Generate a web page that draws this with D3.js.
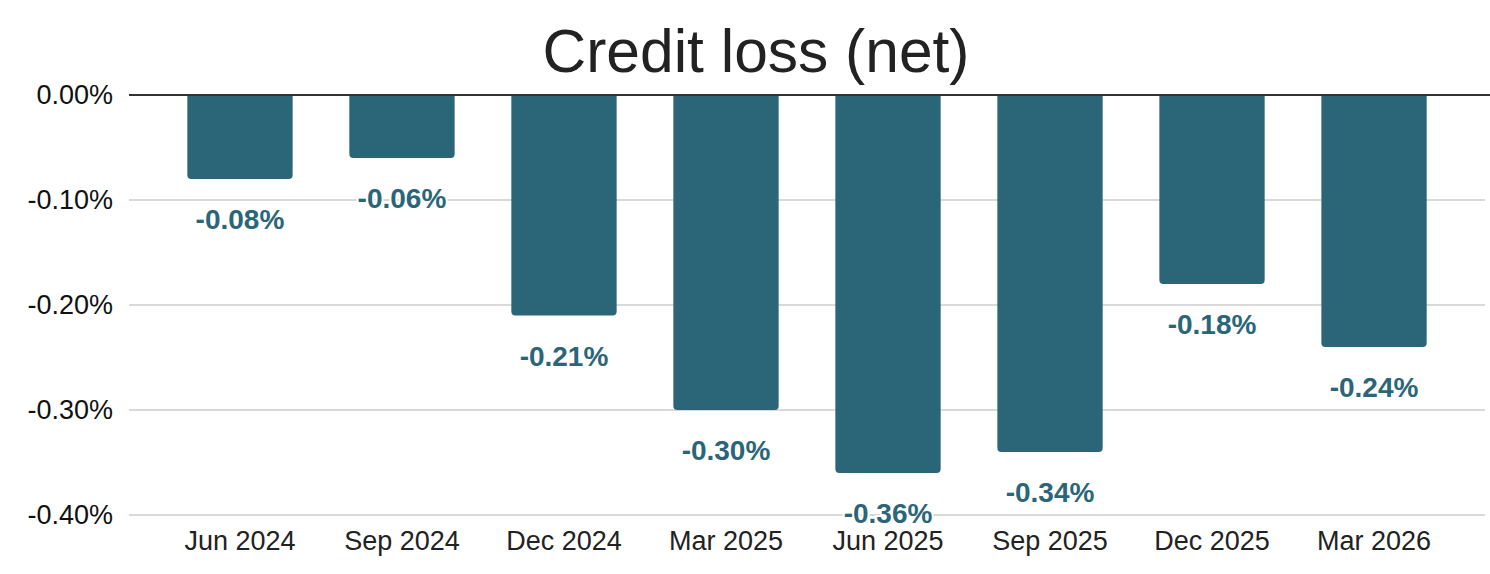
<!DOCTYPE html>
<html>
<head>
<meta charset="utf-8">
<script src="https://cdn.jsdelivr.net/npm/d3@7"></script>
<style>
  body { margin: 0; background: #fff; }
  text { font-family: "Liberation Sans", Arial, sans-serif; }
</style>
</head>
<body>
<div id="chart"></div>
<script>
var categories = ["Jun 2024", "Sep 2024", "Dec 2024", "Mar 2025", "Jun 2025", "Sep 2025", "Dec 2025", "Mar 2026"];
var values = [-0.08, -0.06, -0.21, -0.30, -0.36, -0.34, -0.18, -0.24];
var yTicks = [0, -0.1, -0.2, -0.3, -0.4];

var width = 1490, height = 574;
var plotLeft = 129, plotRight = 1485, plotTop = 95, plotBottom = 515;
var barColor = "#2b6578";

function pct(d) {
    return (Math.abs(d) < 1e-9 ? 0 : d).toFixed(2) + "%";
}

var svg = d3.select("#chart").append("svg")
    .attr("width", width)
    .attr("height", height);

var x = d3.scaleBand()
    .domain(categories)
    .range([plotLeft, plotRight])
    .paddingInner(0.35)
    .paddingOuter(0.36);

var y = d3.scaleLinear()
    .domain([-0.4, 0])
    .range([plotBottom, plotTop]);

// title
svg.append("text")
    .attr("x", 756)
    .attr("y", 72)
    .attr("text-anchor", "middle")
    .attr("font-size", 60.5)
    .attr("fill", "#222")
    .text("Credit loss (net)");

// gridlines
svg.append("g").selectAll("line")
    .data(yTicks.filter(function(d){ return d !== 0; }))
    .enter().append("line")
    .attr("x1", plotLeft)
    .attr("x2", plotRight)
    .attr("y1", function(d){ return y(d); })
    .attr("y2", function(d){ return y(d); })
    .attr("stroke", "#cccccc")
    .attr("stroke-width", 1.5);

// y axis labels
svg.append("g").selectAll("text")
    .data(yTicks)
    .enter().append("text")
    .attr("x", 113)
    .attr("y", function(d){ return y(d); })
    .attr("dy", "0.35em")
    .attr("text-anchor", "end")
    .attr("font-size", 27)
    .attr("fill", "#111")
    .text(pct);

// bars with rounded bottom corners
function barPath(d, i) {
    var x0 = x(categories[i]), w = x.bandwidth();
    var y0 = y(0), y1 = y(d), r = 4;
    return "M" + x0 + "," + y0 +
        "V" + (y1 - r) +
        "Q" + x0 + "," + y1 + " " + (x0 + r) + "," + y1 +
        "H" + (x0 + w - r) +
        "Q" + (x0 + w) + "," + y1 + " " + (x0 + w) + "," + (y1 - r) +
        "V" + y0 + "Z";
}

svg.append("g").selectAll("path")
    .data(values)
    .enter().append("path")
    .attr("d", barPath)
    .attr("fill", barColor);

// zero line
svg.append("line")
    .attr("x1", plotLeft)
    .attr("x2", width)
    .attr("y1", y(0))
    .attr("y2", y(0))
    .attr("stroke", "#333")
    .attr("stroke-width", 2);

// x axis labels
svg.append("g").selectAll("text")
    .data(categories)
    .enter().append("text")
    .attr("x", function(d){ return x(d) + x.bandwidth() / 2; })
    .attr("y", 550)
    .attr("text-anchor", "middle")
    .attr("font-size", 27)
    .attr("fill", "#222")
    .text(function(d){ return d; });

// value labels (white halo breaks the gridline behind them)
svg.append("g").selectAll("text")
    .data(values)
    .enter().append("text")
    .attr("x", function(d, i){ return x(categories[i]) + x.bandwidth() / 2; })
    .attr("y", function(d){ return y(d) + 50; })
    .attr("text-anchor", "middle")
    .attr("font-size", 28)
    .attr("font-weight", "bold")
    .attr("fill", barColor)
    .attr("stroke", "#fff")
    .attr("stroke-width", 4)
    .attr("paint-order", "stroke")
    .text(pct);
</script>
</body>
</html>
